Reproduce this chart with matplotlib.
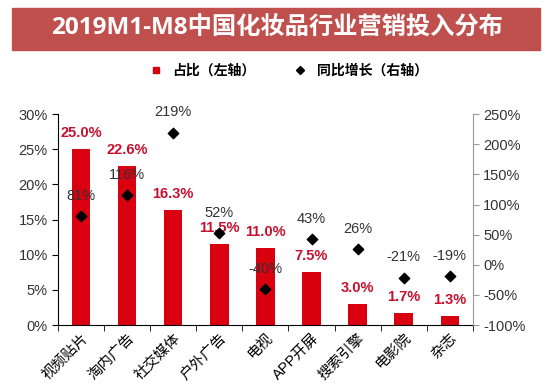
import matplotlib.pyplot as plt
import numpy as np
from matplotlib.patches import Rectangle
from matplotlib.lines import Line2D

plt.rcParams['font.family'] = ['Liberation Sans', 'Noto Sans CJK SC', 'DejaVu Sans']

categories = ["视频贴片", "淘内广告", "社交媒体", "户外广告", "电视", "APP开屏", "搜索引擎", "电影院", "杂志"]
share = [25.0, 22.6, 16.3, 11.5, 11.0, 7.5, 3.0, 1.7, 1.3]  # 占比 %
growth = [81, 116, 219, 52, -40, 43, 26, -21, -19]  # 同比增长 %

bar_color = "#D9000F"
label_red = "#C8102E"

fig = plt.figure(figsize=(5.53, 3.88), dpi=100)

# title banner
fig.patches.append(Rectangle((0.022, 0.871), 0.954, 0.108, transform=fig.transFigure,
                             color="#C0504D", zorder=0))
fig.text(0.5, 0.925, "2019M1-M8中国化妆品行业营销投入分布", color="white",
         fontsize=17.5, fontweight="bold", ha="center", va="center",
         family=["Open Sans", "Noto Sans CJK SC", "DejaVu Sans"])

ax = fig.add_axes([0.105, 0.162, 0.75, 0.544])
x = np.arange(len(categories))
ax.bar(x, share, width=0.4, color=bar_color, zorder=2)
ax.set_xlim(-0.5, len(categories) - 0.5)
ax.set_ylim(0, 30)
ax.set_yticks(np.arange(0, 31, 5))
ax.set_yticklabels([f"{v}%" for v in range(0, 31, 5)], fontsize=10.5, color="#333333")
ax.set_xticks(x)
ax.set_xticklabels(categories, rotation=45, ha="right", rotation_mode="anchor", fontsize=10.5)
ax.tick_params(axis="x", length=0, pad=4)
ax.set_xticks(np.arange(-0.5, len(categories), 1), minor=True)
ax.tick_params(axis="x", which="minor", length=4, direction="out")
ax.tick_params(axis="y", length=4, direction="out")
ax.spines["top"].set_visible(False)
ax.spines["right"].set_visible(False)

for xi, v in zip(x, share):
    ax.text(xi, v + 1.3, f"{v:.1f}%", color=label_red, fontsize=10.5,
            fontweight="bold", ha="center", va="bottom")

ax2 = ax.twinx()
ax2.set_ylim(-100, 250)
ax2.set_yticks(np.arange(-100, 251, 50))
ax2.set_yticklabels([f"{v}%" for v in range(-100, 251, 50)], fontsize=10.5, color="#333333")
ax2.scatter(x, growth, marker="D", s=28, color="black", zorder=3)
ax2.spines["top"].set_visible(False)
ax2.spines["left"].set_visible(False)
ax2.spines["bottom"].set_visible(False)
ax2.spines["right"].set_color("#999999")
ax2.tick_params(axis="y", length=4, color="#999999")
for xi, g in zip(x, growth):
    ax2.text(xi, g + 22, f"{g}%", color="#333333", fontsize=10.5, ha="center", va="bottom")

handles = [
    Line2D([], [], marker="s", linestyle="none", color=bar_color, markersize=4),
    Line2D([], [], marker="D", linestyle="none", color="black", markersize=4),
]
fig.legend(handles, ["占比（左轴）", "同比增长（右轴）"], loc="center",
           bbox_to_anchor=(0.515, 0.818), ncol=2, frameon=False, handletextpad=0.2,
           columnspacing=2.2, prop={"weight": "bold", "size": 10})

fig.savefig("out.png", dpi=100)
